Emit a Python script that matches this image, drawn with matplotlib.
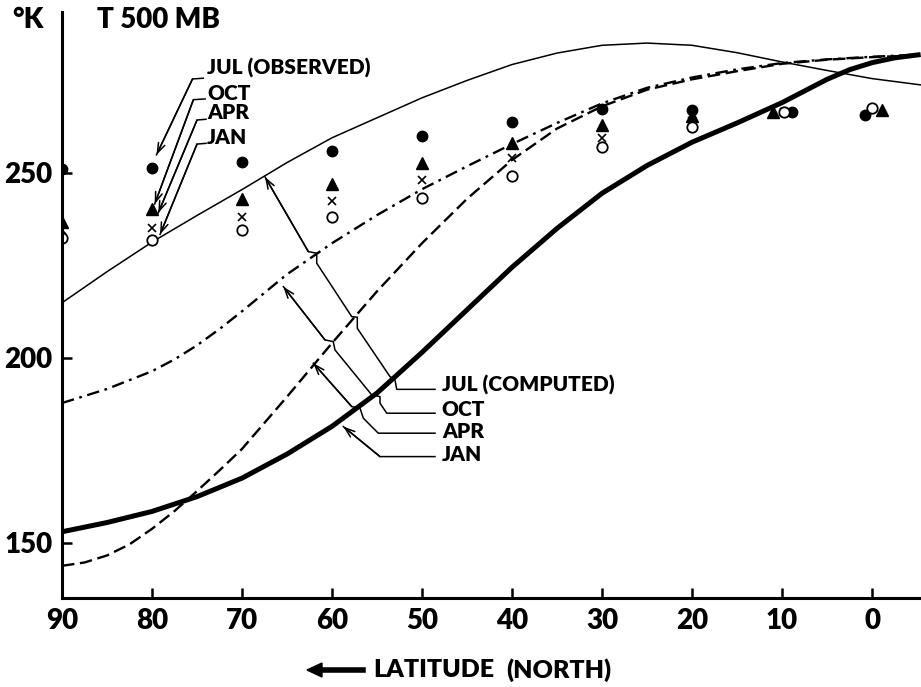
import matplotlib.pyplot as plt

plt.rcParams['font.family'] = ['Lato', 'DejaVu Sans']
plt.rcParams['font.weight'] = 'heavy'
plt.rcParams['lines.scale_dashes'] = False

# computed curves: latitude (deg N) -> T at 500 mb (K)
lat = [90, 85, 80, 75, 70, 65, 60, 55, 50, 45, 40, 35, 30, 25, 20, 15, 10, 5, 0, -5.4]
jul_comp = [214.9, 223.3, 231.3, 238.5, 245.5, 252.8, 259.5, 264.9, 270.3, 275.0,
            279.3, 282.4, 284.5, 285.1, 284.5, 282.5, 280.0, 277.7, 275.5, 273.8]
oct_lat = [90, 85, 80, 77.5, 75, 72.5, 70, 65, 60, 55, 50, 45, 40, 35, 30, 25, 20, 15,
           10, 5, 0, -5.4]
oct_comp = [187.8, 191.6, 196.4, 199.6, 203.4, 207.8, 212.6, 222.6, 231.0, 238.6, 245.6,
            251.8, 257.8, 263.5, 268.8, 273.0, 275.8, 278.0, 279.7, 280.7, 281.4, 282.0]
apr_lat = [90, 87.5, 85, 82.5, 80, 77.5, 75, 72.5, 70, 65, 60, 55, 50, 45, 40, 35, 30,
           25, 20, 15, 10, 5, 0, -5.4]
apr_comp = [143.8, 144.7, 146.6, 149.6, 153.8, 158.6, 164.0, 169.6, 175.4, 189.5, 204.0,
            218.0, 231.0, 243.0, 253.5, 262.0, 268.0, 272.5, 275.3, 277.5, 279.5,
            280.6, 281.3, 281.8]
jan_lat = [90, 85, 80, 75, 70, 65, 60, 55, 50, 45, 40, 35, 30, 25, 20, 15, 10, 5, 2.5,
           0, -2.5, -5.4]
jan_comp = [153.0, 155.5, 158.5, 162.5, 167.5, 174.0, 181.5, 190.5, 201.5, 213.0,
            224.5, 235.0, 244.5, 252.0, 258.3, 263.5, 269.0, 275.3, 277.9, 279.8,
            281.1, 282.0]

# observed values (symbols), slightly offset in latitude near the equator
jul_obs_lat = [90, 80, 70, 60, 50, 40, 30, 20, 8.9, 0.8]
jul_obs = [251.0, 251.4, 253.0, 255.8, 260.0, 263.8, 267.2, 267.0, 266.5, 265.7]
oct_obs_lat = [90, 80, 70, 60, 50, 40, 30, 20, 11.0, -1.1]
oct_obs = [236.8, 240.3, 243.0, 247.0, 252.7, 258.0, 263.0, 265.4, 266.5, 267.0]
apr_obs_lat = [90, 80, 70, 60, 50, 40, 30, 20, 9.8]
apr_obs = [234.6, 235.1, 238.1, 242.4, 248.1, 254.0, 259.5, 264.0, 266.5]
jan_obs_lat = [90, 80, 70, 60, 50, 40, 30, 20, 9.8, 0.0]
jan_obs = [232.4, 231.9, 234.6, 238.1, 243.2, 249.2, 257.0, 262.4, 266.5, 267.6]

xticks = [90, 80, 70, 60, 50, 40, 30, 20, 10, 0]
yticks = [150, 200, 250]

fig = plt.figure(figsize=(9.21, 6.87), dpi=100)
ax = fig.add_axes([62 / 921, 89 / 687, 1 - 62 / 921, 586 / 687])

ax.plot(lat, jul_comp, color='black', lw=1.1)
ax.plot(oct_lat, oct_comp, color='black', lw=1.7, dashes=[9, 4, 2, 4])
ax.plot(apr_lat, apr_comp, color='black', lw=1.7, dashes=[9, 4])
ax.plot(jan_lat, jan_comp, color='black', lw=3.6, solid_capstyle='butt')

ax.plot(jul_obs_lat, jul_obs, 'o', color='black', ms=7.5)
ax.plot(oct_obs_lat, oct_obs, '^', color='black', ms=8.5)
ax.plot(apr_obs_lat, apr_obs, 'x', color='black', ms=6, mew=1.2)
ax.plot(jan_obs_lat, jan_obs, 'o', mfc='white', mec='black', ms=7.5, mew=1.3)

ax.set_xlim(90, -5.44)
ax.set_ylim(135.1, 293.5)
ax.set_xticks(xticks)
ax.set_yticks(yticks)
ax.tick_params(direction='in', length=7, width=1.8, labelsize=20, pad=7)
for side in ['top', 'right']:
    ax.spines[side].set_visible(False)
for side in ['left', 'bottom']:
    ax.spines[side].set_linewidth(2.2)


def leader(path, text, tx, ty):
    xs = [p[0] for p in path]
    ys = [p[1] for p in path]
    ax.plot(xs, ys, color='black', lw=1.1)
    ax.annotate('', xy=path[-1], xytext=path[-2],
                arrowprops=dict(arrowstyle='->,head_length=0.7,head_width=0.25',
                                lw=1.1, color='black', shrinkA=0, shrinkB=0))
    ax.text(tx, ty, text, fontsize=15, ha='left', va='center')


# observed labels
leader([(74.3, 275.6), (75.5, 275.4), (79.5, 254.9)], 'JUL (OBSERVED)', 73.9, 278.4)
leader([(74.1, 270.0), (75.4, 269.8), (79.7, 241.6)], 'OCT', 73.9, 271.6)
leader([(74.0, 264.5), (75.0, 264.3), (79.3, 239.2)], 'APR', 73.9, 266.2)
leader([(74.0, 258.0), (75.0, 257.8), (79.1, 233.4)], 'JAN', 73.9, 259.7)

# computed labels
leader([(48.56, 191.5), (52.81, 191.5), (53.0, 194.05), (53.56, 194.95),
        (57.19, 208.0), (57.19, 211.0), (57.81, 211.16), (61.7, 225.6),
        (61.7, 228.3), (62.63, 228.73), (67.44, 248.9)],
       'JUL (COMPUTED)', 47.8, 192.7)
leader([(48.56, 185.05), (53.92, 185.05), (54.67, 187.76), (54.67, 189.54),
        (55.59, 190.0), (59.67, 202.16), (59.86, 204.41), (60.78, 204.86),
        (65.41, 219.27)], 'OCT', 47.8, 186.0)
leader([(48.56, 179.65), (54.86, 179.65), (56.52, 183.7), (56.89, 186.41),
        (57.81, 186.84), (62.08, 198.57)], 'APR', 47.8, 180.1)
leader([(48.56, 173.32), (54.67, 173.32), (58.74, 181.43)], 'JAN', 47.8, 173.8)

fig.text(12 / 921, 1 - 20 / 687, '°K', fontsize=20, ha='left', va='center')
fig.text(97 / 921, 1 - 20 / 687, 'T 500 MB', fontsize=20, ha='left', va='center')

fig.text(373 / 921, 1 - 670 / 687, 'LATITUDE', fontsize=18, ha='left', va='center')
fig.text(506 / 921, 1 - 670 / 687, '(NORTH)', fontsize=18, ha='left', va='center')
fig.patches.append(plt.Polygon([[307 / 921, 1 - 670 / 687], [322 / 921, 1 - 663 / 687],
                                [322 / 921, 1 - 677 / 687]], closed=True,
                               transform=fig.transFigure, color='black'))
fig.lines.append(plt.Line2D([318 / 921, 363 / 921], [1 - 670 / 687, 1 - 670 / 687],
                            transform=fig.transFigure, color='black', lw=4))

fig.savefig('out.png', dpi=100)
